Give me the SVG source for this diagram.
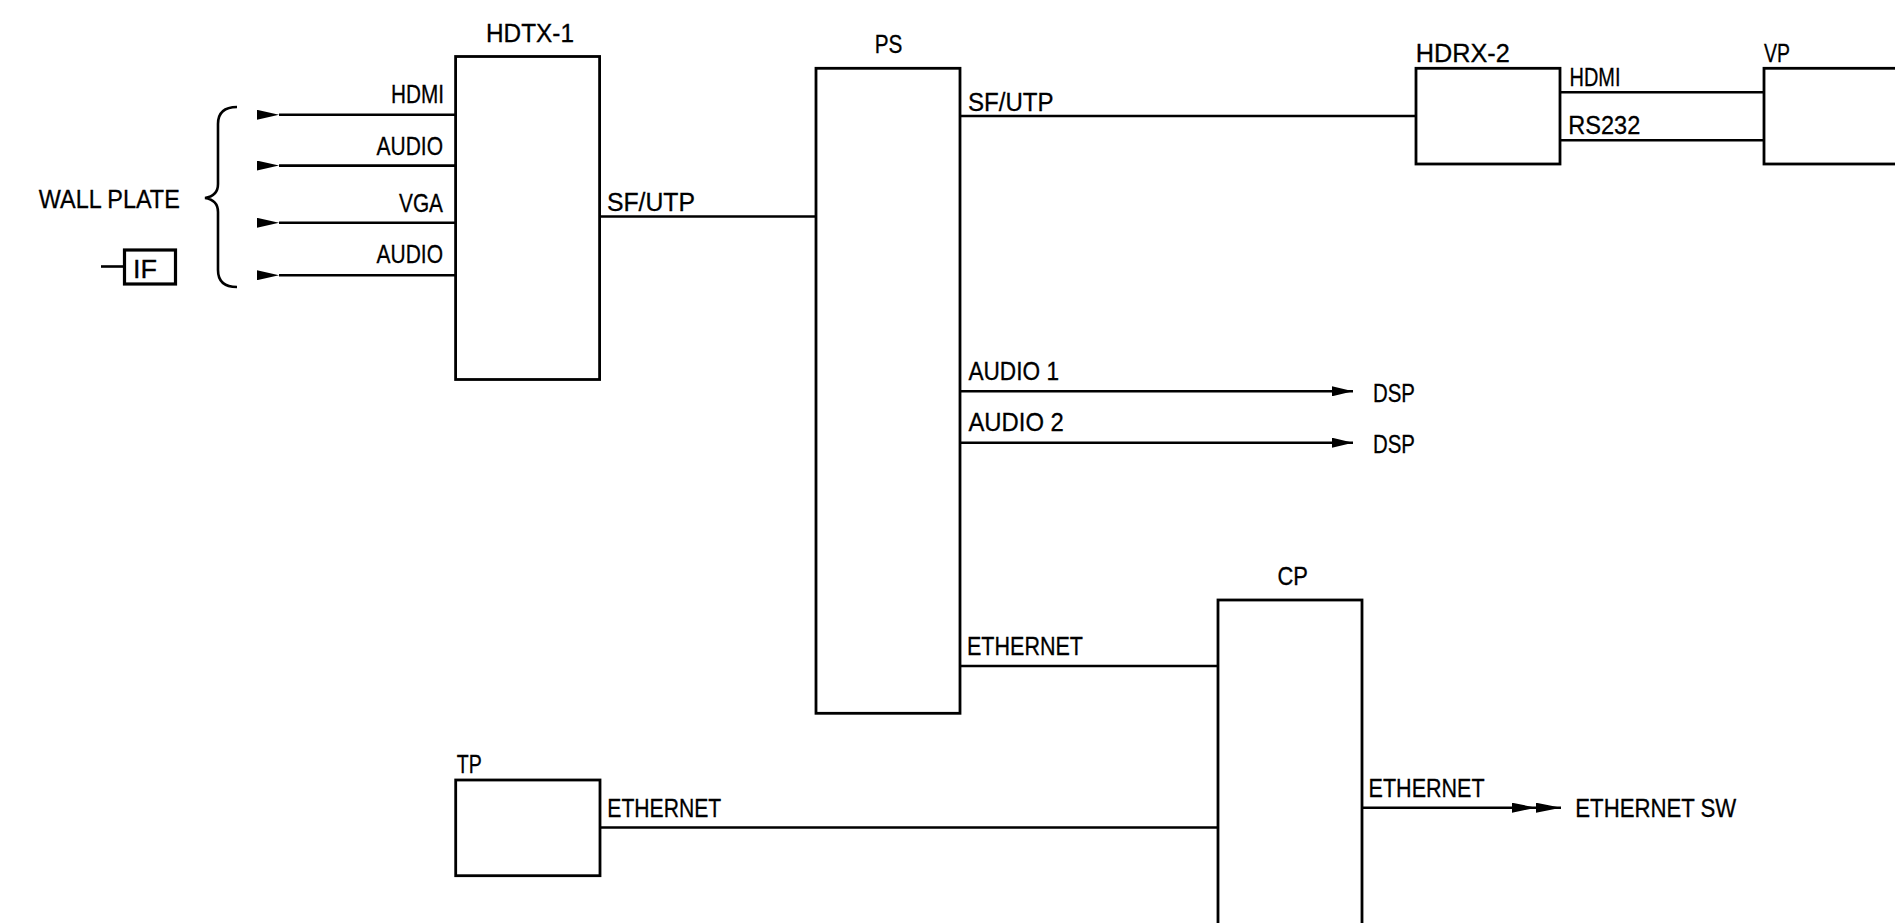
<svg xmlns="http://www.w3.org/2000/svg" width="1895" height="923" viewBox="0 0 1895 923">
<style>
  .box{fill:none;stroke:#000;stroke-width:2.8}
  .ln{fill:none;stroke:#000;stroke-width:2.6}
  text{font-family:"Liberation Sans",Arial,sans-serif;font-size:25.5px;fill:#000;stroke:#000;stroke-width:0.3}
</style>
<defs>
  <marker id="arrL" viewBox="0 0 22 10" refX="0" refY="5" markerWidth="22" markerHeight="10" markerUnits="userSpaceOnUse" orient="auto">
    <path d="M0,5 L22,0 L22,10 Z" fill="#000"/>
  </marker>
  <marker id="arrR" viewBox="0 0 21 10" refX="21" refY="5" markerWidth="21" markerHeight="10" markerUnits="userSpaceOnUse" orient="auto">
    <path d="M21,5 L0,0 L0,10 Z" fill="#000"/>
  </marker>
  <marker id="arrRR" viewBox="0 0 49 10" refX="49" refY="5" markerWidth="49" markerHeight="10" markerUnits="userSpaceOnUse" orient="auto">
    <path d="M24,5 L0,0 L0,10 Z M49,5 L24,0 L24,10 Z" fill="#000"/>
  </marker>
</defs>
<rect width="1895" height="923" fill="#fff"/>

<g id="connectors">
  <line class="ln" x1="455.6" y1="114.8" x2="279" y2="114.8" marker-end="url(#arrL)"/>
  <line class="ln" x1="455.6" y1="165.6" x2="279" y2="165.6" marker-end="url(#arrL)"/>
  <line class="ln" x1="455.6" y1="222.8" x2="279" y2="222.8" marker-end="url(#arrL)"/>
  <line class="ln" x1="455.6" y1="275.2" x2="279" y2="275.2" marker-end="url(#arrL)"/>
  <line class="ln" x1="600" y1="216.5" x2="816" y2="216.5"/>
  <line class="ln" x1="960" y1="116" x2="1416" y2="116"/>
  <line class="ln" x1="1560" y1="92.3" x2="1764" y2="92.3"/>
  <line class="ln" x1="1560" y1="140.3" x2="1764" y2="140.3"/>
  <line class="ln" x1="960" y1="391.3" x2="1353" y2="391.3" marker-end="url(#arrR)"/>
  <line class="ln" x1="960" y1="442.7" x2="1353" y2="442.7" marker-end="url(#arrR)"/>
  <line class="ln" x1="960" y1="666" x2="1218" y2="666"/>
  <line class="ln" x1="600" y1="827.5" x2="1218" y2="827.5"/>
  <line class="ln" x1="1362" y1="807.7" x2="1561" y2="807.7" marker-end="url(#arrRR)"/>
  <text x="391" y="103" textLength="53" lengthAdjust="spacingAndGlyphs">HDMI</text>
  <text x="376.5" y="155" textLength="66.5" lengthAdjust="spacingAndGlyphs">AUDIO</text>
  <text x="399" y="211.7" textLength="44" lengthAdjust="spacingAndGlyphs">VGA</text>
  <text x="376.5" y="262.7" textLength="66.5" lengthAdjust="spacingAndGlyphs">AUDIO</text>
  <text x="607" y="211" textLength="88" lengthAdjust="spacingAndGlyphs">SF/UTP</text>
  <text x="968" y="111" textLength="85.5" lengthAdjust="spacingAndGlyphs">SF/UTP</text>
  <text x="1569.5" y="86" textLength="51" lengthAdjust="spacingAndGlyphs">HDMI</text>
  <text x="1568.3" y="134" textLength="72" lengthAdjust="spacingAndGlyphs">RS232</text>
  <text x="968.4" y="380" textLength="90.6" lengthAdjust="spacingAndGlyphs">AUDIO 1</text>
  <text x="968.4" y="430.7" textLength="95.5" lengthAdjust="spacingAndGlyphs">AUDIO 2</text>
  <text x="967" y="655" textLength="116" lengthAdjust="spacingAndGlyphs">ETHERNET</text>
  <text x="1368.6" y="796.7" textLength="116" lengthAdjust="spacingAndGlyphs">ETHERNET</text>
  <text x="607.3" y="817.3" textLength="114" lengthAdjust="spacingAndGlyphs">ETHERNET</text>
</g>

<g id="wall-plate">
  <text x="38.8" y="207.7" textLength="141" lengthAdjust="spacingAndGlyphs">WALL PLATE</text>
  <path class="ln" d="M237,107 Q218,107 218,124 L218,184 Q218,196 205,198 Q218,200 218,212 L218,270 Q218,287 237,287"/>
</g>

<g id="IF">
  <line class="ln" x1="101" y1="266.5" x2="124.5" y2="266.5"/>
  <rect x="124.5" y="250" width="51" height="34" fill="none" stroke="#000" stroke-width="3.2"/>
  <text x="133" y="277.7" textLength="24" lengthAdjust="spacingAndGlyphs" stroke-width="1.1">IF</text>
</g>

<g id="HDTX-1">
  <rect class="box" x="455.6" y="56.5" width="144" height="323"/>
  <text x="486" y="41.7" textLength="88" lengthAdjust="spacingAndGlyphs">HDTX-1</text>
</g>

<g id="PS">
  <rect class="box" x="816" y="68.3" width="144" height="645"/>
  <text x="874.7" y="52.7" textLength="27.7" lengthAdjust="spacingAndGlyphs">PS</text>
</g>

<g id="HDRX-2">
  <rect class="box" x="1416" y="68.3" width="144" height="95.7"/>
  <text x="1415.7" y="61.7" textLength="94" lengthAdjust="spacingAndGlyphs">HDRX-2</text>
</g>

<g id="VP">
  <rect class="box" x="1764" y="68.3" width="200" height="95.7"/>
  <text x="1764" y="61.7" textLength="26" lengthAdjust="spacingAndGlyphs">VP</text>
</g>

<g id="DSP-1">
  <text x="1373" y="401.7" textLength="42" lengthAdjust="spacingAndGlyphs">DSP</text>
</g>
<g id="DSP-2">
  <text x="1373" y="452.7" textLength="42" lengthAdjust="spacingAndGlyphs">DSP</text>
</g>

<g id="CP">
  <rect class="box" x="1218" y="600" width="144" height="400"/>
  <text x="1277.5" y="585" textLength="30.5" lengthAdjust="spacingAndGlyphs">CP</text>
</g>

<g id="ETHERNET-SW">
  <text x="1575.3" y="816.5" textLength="161" lengthAdjust="spacingAndGlyphs">ETHERNET SW</text>
</g>

<g id="TP">
  <rect class="box" x="455.7" y="780" width="144.3" height="95.7"/>
  <text x="456.7" y="772.7" textLength="25" lengthAdjust="spacingAndGlyphs">TP</text>
</g>
</svg>
